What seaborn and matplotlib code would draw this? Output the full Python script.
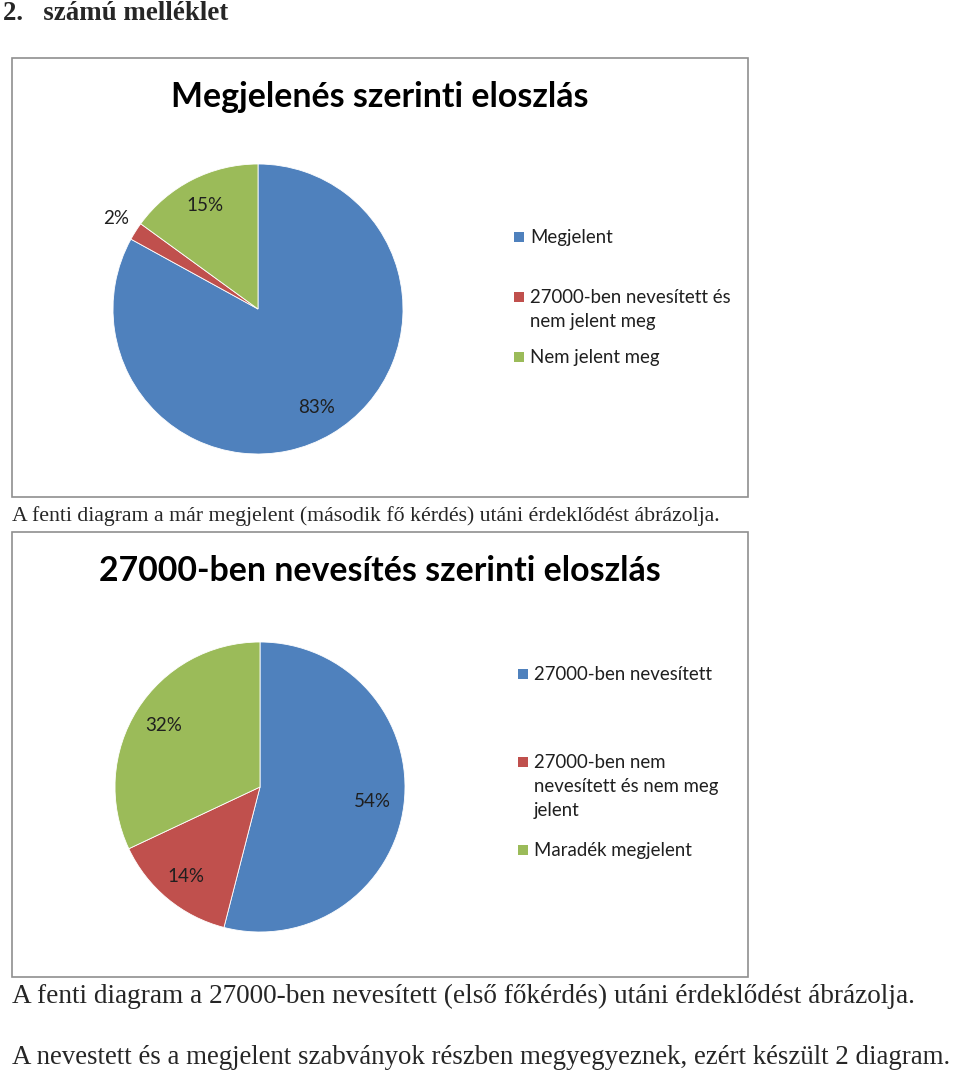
import matplotlib
matplotlib.use("Agg")
import matplotlib.pyplot as plt
from matplotlib.patches import Rectangle
import numpy as np
import seaborn as sns

# data
labels1 = ["Megjelent", "27000-ben nevesített és\nnem jelent meg", "Nem jelent meg"]
values1 = [83, 2, 15]
labels2 = ["27000-ben nevesített", "27000-ben nem\nnevesített és nem meg\njelent", "Maradék megjelent"]
values2 = [54, 14, 32]

title1 = "Megjelenés szerinti eloszlás"
title2 = "27000-ben nevesítés szerinti eloszlás"
heading = "2.   számú melléklet"
caption1 = "A fenti diagram a már megjelent (második fő kérdés) utáni érdeklődést ábrázolja."
caption2 = "A fenti diagram a 27000-ben nevesített (első főkérdés) utáni érdeklődést ábrázolja."
caption3 = "A nevestett és a megjelent szabványok részben megyegyeznek, ezért készült 2 diagram."

sns.set_theme(style="white")
colors = sns.color_palette(["#4F81BD", "#C0504D", "#9BBB59"])
plt.rcParams["font.family"] = ["Lato", "DejaVu Sans"]

W, H = 960, 1073
fig = plt.figure(figsize=(W / 100, H / 100), dpi=100)
fig.patch.set_facecolor("white")


def fx(x):
    return x / W


def fy(y):
    return 1 - y / H


def draw_chart(top, bottom, title, title_y, center, labels, values, pct_dist, leg_x, leg_y):
    # chart frame
    fig.add_artist(Rectangle((fx(12), fy(bottom)), fx(748) - fx(12), fy(top) - fy(bottom),
                             transform=fig.transFigure, fill=False, edgecolor="#8f8f8f", lw=1.2))
    fig.text(fx(380), fy(title_y), title, ha="center", va="center",
             fontsize=24.4, fontweight="bold", color="black")

    r = 145
    cx, cy = center
    ax = fig.add_axes([fx(cx - r), fy(cy + r), 2 * r / W, 2 * r / H])
    wedges, _ = ax.pie(values, colors=colors, startangle=90, counterclock=False,
                       wedgeprops=dict(edgecolor="white", linewidth=0.6))
    ax.set_xlim(-1, 1)
    ax.set_ylim(-1, 1)
    ax.axis("off")

    # percentage labels at the middle angle of each slice
    total = sum(values)
    start = 90.0
    for v, d in zip(values, pct_dist):
        span = v / total * 360
        mid = np.deg2rad(start - span / 2)
        start -= span
        ax.text(d * np.cos(mid), d * np.sin(mid), f"{v}%", ha="center", va="center",
                fontsize=13.5, color="#1f1f1f")

    # legend, square aligned with first text line
    for w, lab, ly in zip(wedges, labels, leg_y):
        fig.add_artist(Rectangle((fx(leg_x), fy(ly + 5)), 10 / W, 10 / H,
                                 transform=fig.transFigure, facecolor=w.get_facecolor(),
                                 edgecolor="none"))
        fig.text(fx(leg_x + 16), fy(ly - 8), lab, ha="left", va="top",
                 fontsize=13.4, color="#1f1f1f", linespacing=1.5)


draw_chart(58, 497, title1, 97, (258, 309), labels1, values1, [0.79, 1.16, 0.8],
           514, [237, 297, 357])
draw_chart(532, 977, title2, 571, (260, 787), labels2, values2, [0.78, 0.8, 0.79],
           518, [674, 762, 850])

serif = ["Liberation Serif", "DejaVu Serif"]
fig.text(fx(3), fy(13), heading, ha="left", va="center", fontsize=19.4,
         fontweight="bold", family=serif)
fig.text(fx(12), fy(516), caption1, ha="left", va="center", fontsize=15.7, family=serif)
fig.text(fx(12), fy(996), caption2, ha="left", va="center", fontsize=19.6, family=serif)
fig.text(fx(12), fy(1058), caption3, ha="left", va="center", fontsize=19.4, family=serif)

fig.savefig("out.png", dpi=100, facecolor="white")
